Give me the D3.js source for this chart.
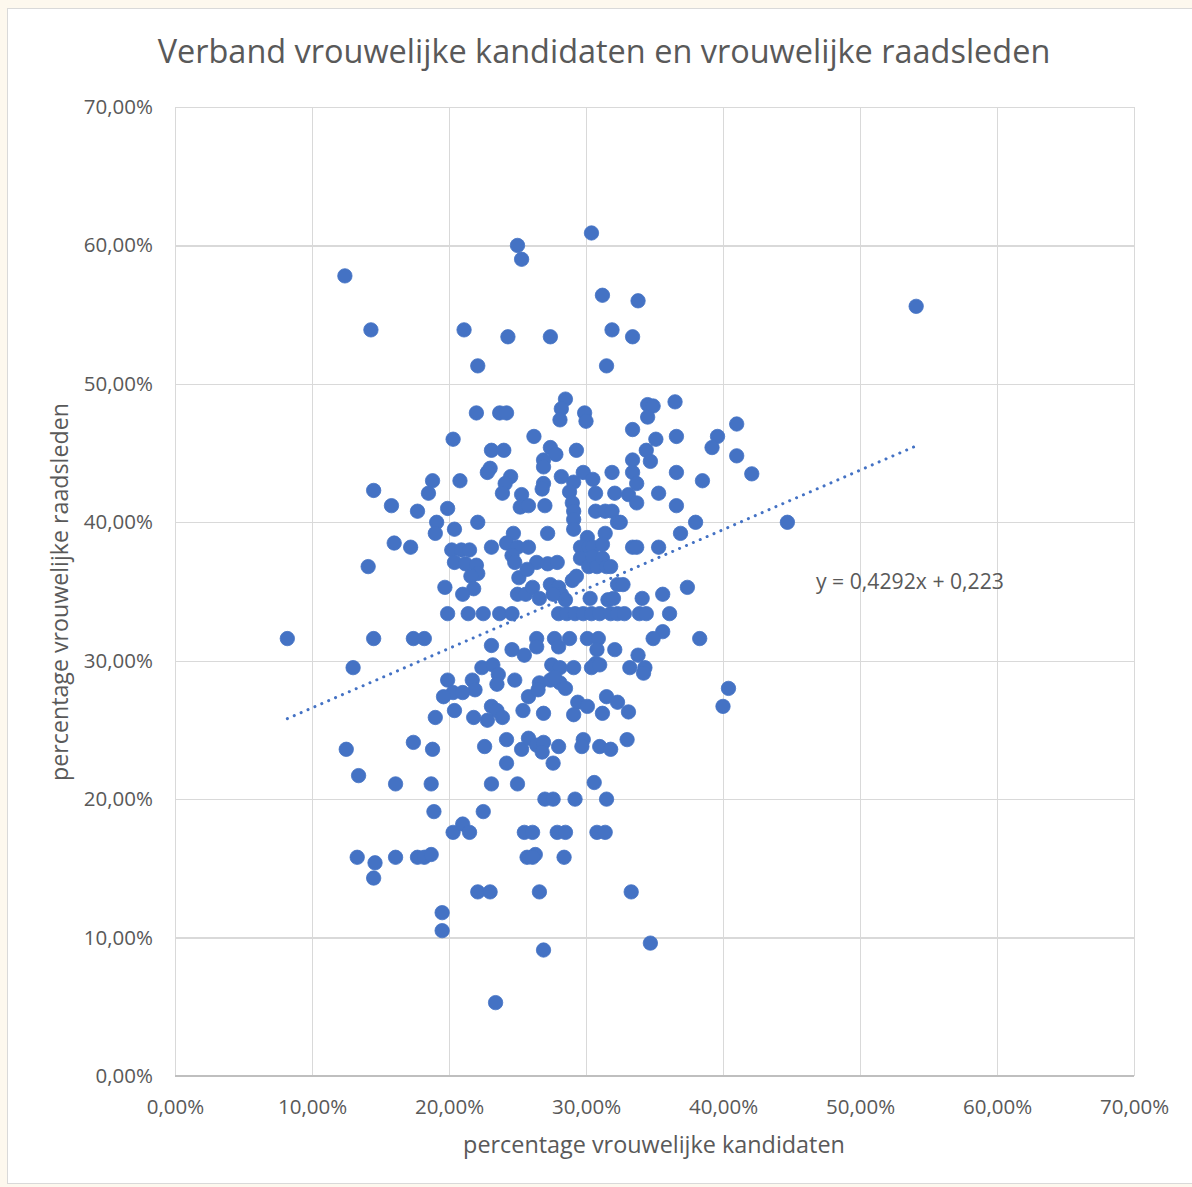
<!DOCTYPE html>
<html>
<head>
<meta charset="utf-8">
<script src="https://cdn.jsdelivr.net/npm/d3@7"></script>
<style>
  html, body { margin: 0; padding: 0; background: #FDF8EE; }
  svg { display: block; }
  text { font-family: "Open Sans", "Noto Sans", sans-serif; fill: #595959; }
</style>
</head>
<body>
<svg id="chart" width="1192" height="1187"></svg>
<script>
// ---------- DATA (percentages) ----------
const titleText = "Verband vrouwelijke kandidaten en vrouwelijke raadsleden";
const xAxisTitle = "percentage vrouwelijke kandidaten";
const yAxisTitle = "percentage vrouwelijke raadsleden";
const xTicks = [0, 10, 20, 30, 40, 50, 60, 70];
const yTicks = [0, 10, 20, 30, 40, 50, 60, 70];
const trendSlope = 0.4292;      // y = 0,4292x + 0,223 (fractions)
const trendIntercept = 0.223;
const trendLabel = "y = 0,4292x + 0,223";

// percentage vrouwelijke kandidaten
const candidates = [
  8.2,12.4,14.3,54.1,30.4,25.0,25.3,31.2,33.8,21.1,31.9,24.3,27.4,33.4,22.1,31.5,
  28.5,28.2,28.1,29.9,30.0,22.0,23.7,24.2,34.5,34.9,34.5,36.5,33.4,36.6,35.1,39.6,39.2,41.0,41.0,42.1,20.3,26.2,
  27.4,27.8,29.3,23.1,24.0,34.4,34.7,33.4,33.4,31.9,36.6,23.0,22.8,26.9,26.9,28.2,29.8,24.5,18.8,20.8,38.5,33.7,
  24.1,26.9,26.8,29.1,30.5,28.8,30.7,32.1,33.1,35.3,23.9,25.3,18.5,14.5,15.8,17.7,19.9,25.2,25.8,27.0,29.0,33.7,36.6,29.1,30.7,31.4,31.9,
  29.1,29.1,32.3,32.5,38.0,44.7,19.1,22.1,19.0,20.4,24.7,27.2,30.1,31.4,36.9,16.0,17.2,24.2,20.2,20.9,21.5,23.1,25.0,25.8,29.6,30.2,30.5,31.2,33.4,33.7,35.3,
  24.6,24.8,20.4,21.2,22.0,22.1,21.6,21.8,21.0,14.1,19.7,26.4,27.2,27.9,25.1,25.7,25.0,25.6,26.1,26.6,27.4,28.0,28.2,28.5,27.6,29.0,29.3,29.6,30.2,30.5,30.8,31.2,31.5,31.8,30.3,31.6,32.0,32.3,32.7,34.1,35.6,37.4,
  19.9,21.4,22.5,23.7,24.6,28.0,28.6,29.2,29.8,30.4,31.0,31.8,32.3,32.8,33.9,34.4,36.1,
  35.6,34.9,38.3,14.5,17.4,18.2,13.0,23.1,24.6,25.5,26.4,26.4,27.7,28.8,28.0,30.1,30.9,30.8,30.7,30.4,31.0,32.1,33.8,34.3,33.2,34.2,22.4,23.2,23.6,23.5,21.7,21.9,19.9,20.3,21.0,19.6,20.4,24.8,25.8,26.6,27.5,28.1,29.1,27.4,28.1,26.5,28.5,27.7,40.4,40.0,
  23.1,23.5,19.0,21.8,23.9,22.8,25.4,29.4,30.1,31.5,32.3,33.1,26.9,29.1,31.2,
  12.5,13.4,16.1,17.4,18.8,18.7,22.6,24.2,25.3,25.8,24.2,23.1,25.0,26.4,26.9,26.8,28.0,29.8,29.7,31.0,31.8,33.0,27.6,30.6,27.0,27.6,29.2,31.5,
  18.9,22.5,20.3,21.0,21.5,25.5,26.1,27.9,28.5,30.8,31.4,13.3,14.6,14.5,16.1,17.7,18.2,18.7,25.7,26.3,26.1,28.4,22.1,23.0,26.6,33.3,19.5,19.5,26.9,34.7,23.4
];

// percentage vrouwelijke raadsleden
const councillors = [
  31.6,57.8,53.9,55.6,60.9,60.0,59.0,56.4,56.0,53.9,53.9,53.4,53.4,53.4,51.3,51.3,
  48.9,48.2,47.4,47.9,47.3,47.9,47.9,47.9,48.5,48.4,47.6,48.7,46.7,46.2,46.0,46.2,45.4,47.1,44.8,43.5,46.0,46.2,
  45.4,44.9,45.2,45.2,45.2,45.2,44.4,44.5,43.6,43.6,43.6,43.9,43.6,44.5,44.0,43.3,43.6,43.3,43.0,43.0,43.0,42.8,
  42.8,42.8,42.4,42.9,43.1,42.2,42.1,42.1,42.0,42.1,42.1,42.0,42.1,42.3,41.2,40.8,41.0,41.1,41.2,41.2,41.4,41.4,41.2,40.8,40.8,40.8,40.8,
  40.2,39.5,40.0,40.0,40.0,40.0,40.0,40.0,39.2,39.5,39.2,39.2,38.9,39.2,39.2,38.5,38.2,38.5,38.0,38.0,38.0,38.2,38.2,38.2,38.2,38.2,38.2,38.4,38.2,38.2,38.2,
  37.6,37.1,37.1,37.0,36.9,36.3,36.1,35.2,34.8,36.8,35.3,37.1,37.0,37.1,36.0,36.6,34.8,34.8,35.3,34.5,35.5,35.3,34.8,34.4,34.8,35.8,36.1,37.4,36.8,37.5,36.8,37.4,36.8,36.8,34.5,34.4,34.5,35.5,35.5,34.5,34.8,35.3,
  33.4,33.4,33.4,33.4,33.4,33.4,33.4,33.4,33.4,33.4,33.4,33.4,33.4,33.4,33.4,33.4,33.4,
  32.1,31.6,31.6,31.6,31.6,31.6,29.5,31.1,30.8,30.4,31.6,31.0,31.6,31.6,31.0,31.6,31.6,30.8,29.8,29.5,29.7,30.8,30.4,29.5,29.5,29.1,29.5,29.7,29.0,28.3,28.6,27.9,28.6,27.7,27.7,27.4,26.4,28.6,27.4,28.4,29.7,29.5,29.5,28.6,28.4,27.9,28.0,28.8,28.0,26.7,
  26.7,26.4,25.9,25.9,25.9,25.7,26.4,27.0,26.7,27.4,27.0,26.3,26.2,26.1,26.2,
  23.6,21.7,21.1,24.1,23.6,21.1,23.8,24.3,23.6,24.4,22.6,21.1,21.1,23.9,24.1,23.4,23.8,24.3,23.8,23.8,23.6,24.3,22.6,21.2,20.0,20.0,20.0,20.0,
  19.1,19.1,17.6,18.2,17.6,17.6,17.6,17.6,17.6,17.6,17.6,15.8,15.4,14.3,15.8,15.8,15.8,16.0,15.8,16.0,15.8,15.8,13.3,13.3,13.3,13.3,11.8,10.5,9.1,9.6,5.3
];

// ---------- CHART ----------
const svg = d3.select("#chart");
const W = 1192, H = 1187;
const plot = { left: 175, right: 1134, top: 107, bottom: 1076 };
const ink = "#595959", grid = "#D9D9D9", blue = "#4472C4";

// chart frame
svg.append("rect").attr("x", 7.5).attr("y", 8.5).attr("width", W).attr("height", H - 12)
  .attr("fill", "#FFFFFF").attr("stroke", "#D9D9D9").attr("stroke-width", 1);

const x = d3.scaleLinear().domain([0, 70]).range([plot.left, plot.right]);
const y = d3.scaleLinear().domain([0, 70]).range([plot.bottom, plot.top]);

const nl = d3.formatLocale({ decimal: ",", thousands: ".", grouping: [3], currency: ["€", ""] });
const fmt = d => nl.format(".2f")(d) + "%";

// gridlines
const gx = svg.append("g").attr("transform", `translate(0,${plot.bottom})`)
  .call(d3.axisBottom(x).tickValues(xTicks).tickSize(-(plot.bottom - plot.top)).tickFormat(""));
const gy = svg.append("g").attr("transform", `translate(${plot.left},0)`)
  .call(d3.axisLeft(y).tickValues(yTicks).tickSize(-(plot.right - plot.left)).tickFormat(""));
[gx, gy].forEach(g => {
  g.select(".domain").remove();
  g.selectAll(".tick line").attr("stroke", grid).attr("stroke-width", 1.3).attr("shape-rendering", "crispEdges");
});
// bottom axis line
svg.append("line").attr("x1", plot.left).attr("x2", plot.right).attr("y1", plot.bottom).attr("y2", plot.bottom)
  .attr("stroke", "#BFBFBF").attr("stroke-width", 1.3).attr("shape-rendering", "crispEdges");

// tick labels
const ax = svg.append("g").attr("transform", `translate(0,${plot.bottom})`)
  .call(d3.axisBottom(x).tickValues(xTicks).tickSize(0).tickPadding(23).tickFormat(fmt));
ax.select(".domain").remove();
ax.selectAll("text").attr("font-size", 20.5).attr("fill", ink).attr("font-family", '"Open Sans", sans-serif');

const ay = svg.append("g").attr("transform", `translate(${plot.left},0)`)
  .call(d3.axisLeft(y).tickValues(yTicks).tickSize(0).tickPadding(22).tickFormat(fmt));
ay.select(".domain").remove();
ay.selectAll("text").attr("font-size", 20.5).attr("fill", ink).attr("font-family", '"Open Sans", sans-serif');

// points
const pts = candidates.map((c, i) => ({ c, r: councillors[i] }));
svg.append("g").selectAll("circle").data(pts).join("circle")
  .attr("cx", d => x(d.c)).attr("cy", d => y(d.r)).attr("r", 7.2)
  .attr("fill", blue).attr("stroke", blue).attr("stroke-width", 0.8);

// linear trendline (dotted)
const xmin = d3.min(candidates), xmax = d3.max(candidates);
const trend = [xmin, xmax].map(v => ({ c: v, r: (trendSlope * v / 100 + trendIntercept) * 100 }));
svg.append("path").datum(trend)
  .attr("d", d3.line().x(d => x(d.c)).y(d => y(d.r)))
  .attr("fill", "none").attr("stroke", blue).attr("stroke-width", 3)
  .attr("stroke-linecap", "round").attr("stroke-dasharray", "0.1 7.4");

// helper: fit text to a target width
function fitText(sel, target, base) {
  sel.attr("font-size", base);
  const w = sel.node().getComputedTextLength();
  sel.attr("font-size", base * target / w);
}

// trend label
const tl = svg.append("text").attr("x", 816).attr("y", 589).text(trendLabel);
fitText(tl, 188, 18);

// title
const t = svg.append("text").attr("x", 604).attr("y", 63).attr("text-anchor", "middle").text(titleText);
fitText(t, 893, 30);

// axis titles
const xt = svg.append("text").attr("x", 654).attr("y", 1153).attr("text-anchor", "middle").text(xAxisTitle);
fitText(xt, 382, 21);
const yt = svg.append("text").attr("transform", "translate(68,592) rotate(-90)").attr("text-anchor", "middle").text(yAxisTitle);
fitText(yt, 378, 21);
</script>
</body>
</html>
